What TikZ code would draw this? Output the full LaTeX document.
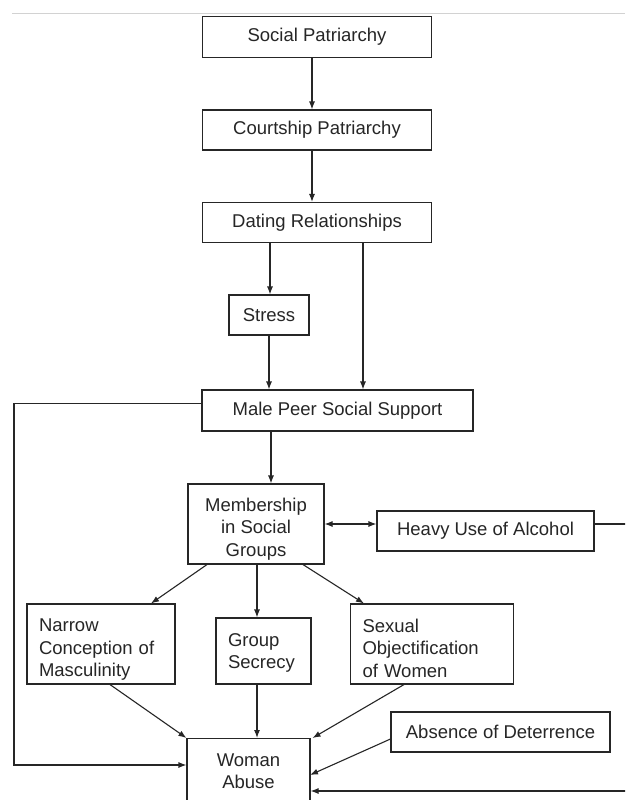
\documentclass[tikz,border=0pt]{standalone}
\usepackage{fontspec}
\setmainfont{Liberation Sans}
\usetikzlibrary{arrows.meta}
\begin{document}
\begin{tikzpicture}[x=1pt,y=-1pt,
  box/.style={draw=black!85, line width=1.1pt, inner sep=0pt, text=black!85,
    font=\fontsize{18.5}{22.5}\selectfont},
  arr/.style={line width=1.1pt, draw=black!85, -{Latex[length=8pt,width=6pt]}},
  darr/.style={line width=1.1pt, draw=black!85, {Latex[length=8pt,width=6pt]}-{Latex[length=8pt,width=6pt]}},
  lbl/.style={text=black!85, font=\fontsize{18.5}{22.5}\selectfont, align=center, inner sep=0pt},
  llbl/.style={lbl, align=left}]
\useasboundingbox (0,0) rectangle (625,800);
\clip (0,0) rectangle (625,800);
\fill[white] (0,0) rectangle (625,800);
\draw[gray!35, line width=0.8pt] (12,13) -- (625,13);

\node[box, minimum width=229pt, minimum height=41pt] (sp) at (317,37) {Social Patriarchy};
\node[box, minimum width=229pt, minimum height=40pt] (cp) at (317,130) {Courtship Patriarchy};
\node[box, minimum width=229pt, minimum height=40pt] (dr) at (317,222.5) {Dating Relationships};
\node[box, minimum width=80pt, minimum height=40pt] (st) at (269,315) {Stress};
\node[box, minimum width=271pt, minimum height=41pt] (mp) at (337.5,410.5) {Male Peer Social Support};
\node[box, minimum width=136pt, minimum height=80pt] (ms) at (256,524) {};
\node[lbl] (mst) at (256,529) {Membership\\in Social\\Groups};
\node[box, minimum width=217pt, minimum height=40pt] (al) at (485.5,531) {Heavy Use of Alcohol};
\node[box, minimum width=148pt, minimum height=80pt] (nc) at (101,644) {};
\node[llbl, text width=124pt] (nct) at (101,650) {Narrow\\Conception of\\Masculinity};
\node[box, minimum width=95pt, minimum height=66pt] (gs) at (263.5,651) {};
\node[llbl, text width=71pt] (gst) at (263.5,653) {Group\\Secrecy};
\node[box, minimum width=163pt, minimum height=80pt] (so) at (432,644) {};
\node[llbl, text width=139pt] (sot) at (432,648) {Sexual\\Objectification\\of Women};
\node[box, minimum width=219pt, minimum height=40pt] (ad) at (500.5,732) {Absence of Deterrence};
\node[box, minimum width=123pt, minimum height=100pt, anchor=north] (wa) at (248.5,738) {};
\node[lbl] (wat) at (248.5,771) {Woman\\Abuse};

\coordinate (la) at (14,765);
\coordinate (rc) at (632,524);
\coordinate (rb) at (632,791);
\coordinate (adt) at (310,775);

\draw[arr] ([xshift=-5pt]sp.south) -- ([xshift=-5pt]sp.south |- cp.north);
\draw[arr] ([xshift=-5pt]cp.south) -- ([xshift=-5pt]cp.south |- dr.north);
\draw[arr] ([xshift=-47pt]dr.south) -- ([xshift=-47pt]dr.south |- st.north);
\draw[arr] ([xshift=46pt]dr.south) -- ([xshift=46pt]dr.south |- mp.north);
\draw[arr] (st.south) -- (st.south |- mp.north);
\draw[arr] ([xshift=-66.5pt]mp.south) -- ([xshift=-66.5pt]mp.south |- ms.north);
\draw[darr] (ms.east) -- (ms.east -| al.west);
\draw[arr] ([xshift=-49pt]ms.south) -- ([xshift=50pt]nc.north);
\draw[arr] ([xshift=1pt]ms.south) -- ([xshift=1pt]ms.south |- gs.north);
\draw[arr] ([xshift=47pt]ms.south) -- ([xshift=-68pt]so.north);
\draw[arr] ([xshift=9pt]nc.south) -- (wa.north west);
\draw[arr] ([xshift=-6.5pt]gs.south) -- ([xshift=-6.5pt]gs.south |- wa.north);
\draw[arr] ([xshift=-28pt]so.south) -- ([xshift=2pt]wa.north east);
\draw[arr] ([yshift=-7pt]ad.west) -- (adt);
\draw[arr] ([yshift=7pt]mp.west) -| (la) -- (la -| wa.west);
\draw[arr] ([yshift=7pt]al.east) -- (rc) -- (rb) -- (rb -| wa.east);
\end{tikzpicture}
\end{document}
